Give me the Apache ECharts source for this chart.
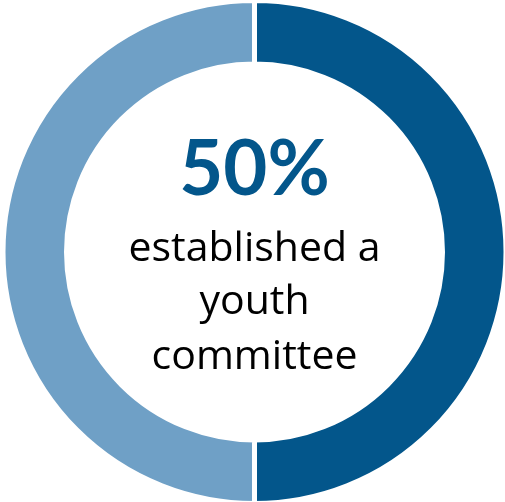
<!DOCTYPE html>
<html>
<head>
<meta charset="utf-8">
<script src="https://cdn.jsdelivr.net/npm/echarts@6/dist/echarts.min.js"></script>
<style>
  html, body { margin: 0; padding: 0; background: #fff; }
  #chart { width: 505px; height: 502px; }
</style>
</head>
<body>
<div id="chart"></div>
<script>
// Share of groups that established a youth committee
const categories = ['Established a youth committee', 'Did not establish'];
const values = [50, 50];
const sliceColors = ['#03568B', '#6FA0C6'];
const captionLines = ['established a', 'youth', 'committee'];

const total = values.reduce((a, b) => a + b, 0);
const pctText = Math.round(values[0] / total * 100) + '%';

const chart = echarts.init(document.getElementById('chart'), null, { renderer: 'canvas' });

const cx = 254.5;

const graphics = [
  {
    type: 'text',
    x: cx, y: 170,
    style: {
      text: pctText,
      font: 'bold 76px Lato, sans-serif',
      fill: '#03568B',
      align: 'center',
      verticalAlign: 'middle'
    }
  }
];
const lineYs = [249, 302, 357];
captionLines.forEach((t, i) => {
  graphics.push({
    type: 'text',
    x: cx, y: lineYs[i],
    style: {
      text: t,
      font: '41px "Open Sans", sans-serif',
      fill: '#000',
      align: 'center',
      verticalAlign: 'middle'
    }
  });
});

chart.setOption({
  animation: false,
  series: [{
    type: 'pie',
    center: [cx, 252],
    radius: [188, 251.5],
    startAngle: 90,
    clockwise: true,
    label: { show: false },
    labelLine: { show: false },
    emphasis: { disabled: true },
    itemStyle: { borderColor: '#fff', borderWidth: 5 },
    data: categories.map((name, i) => ({
      name,
      value: values[i],
      itemStyle: { color: sliceColors[i] }
    }))
  }],
  graphic: graphics
});
</script>
</body>
</html>
